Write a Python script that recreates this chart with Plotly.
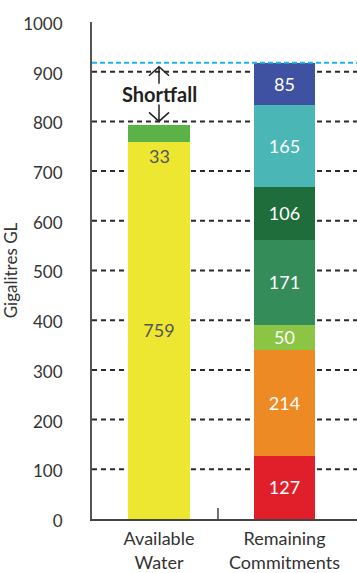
import plotly.graph_objects as go

# ---- data ----
categories = ["Available<br>Water", "Remaining<br>Commitments"]
available_names = ["Available water", "Additional water"]
available_values = [759, 33]
available_colors = ["#EDE731", "#5BB247"]
commitment_names = ["C1", "C2", "C3", "C4", "C5", "C6", "C7"]
commitment_values = [127, 214, 50, 171, 106, 165, 85]
commitment_colors = ["#E01F2A", "#EE8A24", "#8CC443", "#348C59",
                     "#1F6D3B", "#4AB6B6", "#3F52A1"]
y_ticks = [0, 100, 200, 300, 400, 500, 600, 700, 800, 900, 1000]
grid_values = [100, 200, 300, 400, 500, 600, 700, 800, 900]
y_title = "Gigalitres GL"
shortfall_label = "Shortfall"

FONT = "Lato"
BAR_W = 0.49

fig = go.Figure()

# Available water stack
fig.add_trace(go.Bar(
    x=[0], y=[available_values[0]], width=BAR_W, marker_color=available_colors[0],
    marker_line_width=0, name=available_names[0],
    text=[str(available_values[0])], textposition="inside", insidetextanchor="middle",
    textangle=0, textfont=dict(family=FONT, size=18, color="#555555"),
    hoverinfo="skip"))
fig.add_trace(go.Bar(
    x=[0], y=[available_values[1]], width=BAR_W, marker_color=available_colors[1],
    marker_line_width=0, name=available_names[1], hoverinfo="skip"))

# Remaining commitments stack
for name, v, c in zip(commitment_names, commitment_values, commitment_colors):
    fig.add_trace(go.Bar(
        x=[1], y=[v], width=BAR_W, marker_color=c, marker_line_width=0, name=name,
        text=[str(v)], textposition="inside", insidetextanchor="middle", textangle=0,
        textfont=dict(family=FONT, size=18, color="white"), hoverinfo="skip"))

avail_total = sum(available_values)
commit_total = sum(commitment_values)

shapes = []
for g in grid_values:
    shapes.append(dict(type="line", xref="paper", x0=0, x1=1, yref="y", y0=g, y1=g,
                       line=dict(color="#2a2a2a", width=2, dash="5px,4px"), layer="below"))
# shortfall level line
shapes.append(dict(type="line", xref="paper", x0=0, x1=1, yref="y", y0=commit_total,
                   y1=commit_total, line=dict(color="#1DB3EE", width=2, dash="5px,3px"),
                   layer="above"))
# category separator tick
shapes.append(dict(type="line", xref="x", x0=0.47, x1=0.47, yref="y", ysizemode="pixel",
                   yanchor=0, y0=-9, y1=11, line=dict(color="#444444", width=1.5)))
# shortfall arrows
shapes.append(dict(type="path", xref="x", yref="y", xsizemode="pixel", ysizemode="pixel",
                   xanchor=0, yanchor=commit_total,
                   path="M-10,-13 L0,-4 L10,-13 M0,-4 L0,-21",
                   line=dict(color="#222222", width=1.5)))
shapes.append(dict(type="path", xref="x", yref="y", xsizemode="pixel", ysizemode="pixel",
                   xanchor=0, yanchor=avail_total,
                   path="M-10,13 L0,4 L10,13 M0,4 L0,21",
                   line=dict(color="#222222", width=1.5)))

annotations = [
    dict(x=0, y=(avail_total + commit_total) / 2, xref="x", yref="y",
         text="<b>" + shortfall_label + "</b>", showarrow=False,
         font=dict(family=FONT, size=20, color="#231F20")),
    dict(x=0, y=available_values[0], xref="x", yref="y", yanchor="top", yshift=-1,
         text=str(available_values[1]), showarrow=False,
         font=dict(family=FONT, size=18, color="#555555")),
]

fig.update_layout(
    barmode="stack",
    width=357, height=573,
    margin=dict(l=92, r=0, t=22, b=50),
    paper_bgcolor="white", plot_bgcolor="white",
    showlegend=False,
    font=dict(family=FONT, color="#333333"),
    uniformtext=dict(minsize=18, mode="show"),
    shapes=shapes, annotations=annotations,
    xaxis=dict(range=[-0.534, 1.578], tickvals=[0, 1], ticktext=categories,
               showgrid=False, zeroline=False, showline=True, linecolor="#444444",
               linewidth=1.5, ticks="", ticklabelstandoff=3,
               tickfont=dict(family=FONT, size=18, color="#333333"),
               fixedrange=True),
    yaxis=dict(range=[0, 1000], tickvals=y_ticks, showgrid=False, zeroline=False,
               showline=True, linecolor="#555555", linewidth=2, ticks="",
               ticklabelstandoff=24, ticklabelshift=2,
               tickfont=dict(family=FONT, size=17, color="#333333"),
               title=dict(text=y_title, font=dict(family=FONT, size=17, color="#333333"),
                          standoff=2),
               fixedrange=True),
)

fig.write_html("out.html", config={"displayModeBar": False})
